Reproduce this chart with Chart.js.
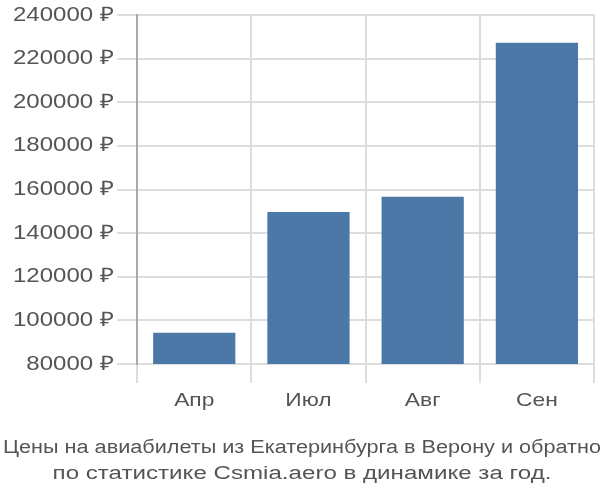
<!DOCTYPE html>
<html>
<head>
<meta charset="utf-8">
<script src="https://cdn.jsdelivr.net/npm/chart.js@4"></script>
<style>
  html, body { margin: 0; padding: 0; background: #fff; }
  #wrap { width: 600px; height: 500px; }
</style>
</head>
<body>
<div id="wrap"><canvas id="priceChart" width="600" height="500"></canvas></div>
<script>
const months = ['Апр', 'Июл', 'Авг', 'Сен'];
const prices = [94300, 149700, 156700, 227300];
const yTicks = [80000, 100000, 120000, 140000, 160000, 180000, 200000, 220000, 240000];
const titleLines = ['Цены на авиабилеты из Екатеринбурга в Верону и обратно', 'по статистике Csmia.aero в динамике за год.'];

const textColor = '#555';
const fontFamily = '"Liberation Sans", Arial, sans-serif';
const axisStretch = 1.2;   // the reference text is drawn wider than it is tall
const titleStretch = 1.34; // title is wider still, squeezed to the canvas width
const titleSize = 18;
const maxTextWidth = 598;

// widen every text the chart draws, keeping its anchor point in place
function stretchText(ctx) {
    const fill = ctx.fillText.bind(ctx);
    const measure = ctx.measureText.bind(ctx);
    const factor = () => ctx.font.includes(titleSize + 'px') ? titleStretch : axisStretch;
    ctx.fillText = (text, x, y) => {
        const w = measure(text).width;
        const sx = Math.min(factor(), maxTextWidth / w);
        ctx.save();
        ctx.translate(x, y);
        ctx.scale(sx, 1);
        fill(text, 0, 0);
        ctx.restore();
    };
    ctx.measureText = text => {
        const m = measure(text);
        const sx = factor();
        return {
            width: Math.min(m.width * sx, maxTextWidth),
            actualBoundingBoxAscent: m.actualBoundingBoxAscent,
            actualBoundingBoxDescent: m.actualBoundingBoxDescent,
            actualBoundingBoxLeft: m.actualBoundingBoxLeft * sx,
            actualBoundingBoxRight: m.actualBoundingBoxRight * sx
        };
    };
}

document.addEventListener('DOMContentLoaded', () => {
    const ctx = document.getElementById('priceChart').getContext('2d');
    stretchText(ctx);
    new Chart(ctx, {
        type: 'bar',
        data: {
            labels: months,
            datasets: [{
                label: 'Цена',
                data: prices,
                backgroundColor: '#4c78a8',
                barPercentage: 0.72,
                categoryPercentage: 1
            }]
        },
        options: {
            responsive: false,
            animation: false,
            layout: { padding: { left: 10, right: 6, top: 4, bottom: 13 } },
            plugins: {
                legend: { display: false },
                tooltip: { enabled: false },
                title: {
                    display: true,
                    position: 'bottom',
                    text: titleLines,
                    color: textColor,
                    font: { family: fontFamily, size: titleSize, weight: 'normal', lineHeight: 1.45 },
                    padding: { top: 17, bottom: 0 }
                }
            },
            scales: {
                x: {
                    grid: { color: '#dddddd', lineWidth: 2, tickLength: 19, offset: true },
                    border: { color: '#dddddd' },
                    ticks: { color: textColor, font: { family: fontFamily, size: 19 }, padding: 6 }
                },
                y: {
                    min: 80000,
                    max: 240000,
                    afterBuildTicks: axis => { axis.ticks = yTicks.map(v => ({ value: v })); },
                    grid: { color: '#dddddd', lineWidth: 2, tickLength: 20 },
                    border: { color: '#aaaaaa', width: 2 },
                    ticks: {
                        color: textColor,
                        font: { family: fontFamily, size: 20 },
                        padding: 3,
                        callback: v => v + ' ₽'
                    }
                }
            }
        }
    });
});
</script>
</body>
</html>
